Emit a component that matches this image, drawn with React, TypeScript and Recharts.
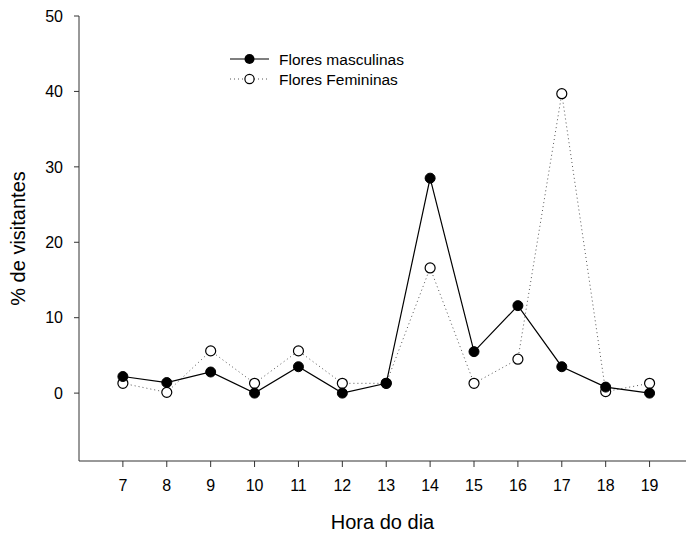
import { LineChart, Line, XAxis, YAxis } from "recharts";

const horas = [7, 8, 9, 10, 11, 12, 13, 14, 15, 16, 17, 18, 19];
const masculinas = [2.2, 1.4, 2.8, 0, 3.5, 0, 1.3, 28.5, 5.5, 11.6, 3.5, 0.8, 0];
const femininas = [1.3, 0.1, 5.6, 1.3, 5.6, 1.3, 1.3, 16.6, 1.3, 4.5, 39.7, 0.2, 1.3];
const yTicks = [0, 10, 20, 30, 40, 50];

const data = horas.map((h, i) => ({
  hora: h,
  masc: masculinas[i],
  fem: femininas[i],
}));

const font = "'Liberation Sans', Arial, sans-serif";

// legenda desenhada por cima do gráfico
function LegendBox() {
  return (
    <svg
      width={240}
      height={40}
      style={{ position: "absolute", left: 230, top: 49, overflow: "visible" }}
    >
      <line x1={0} y1={10} x2={39} y2={10} stroke="#000" strokeWidth={1.2} />
      <circle cx={19.5} cy={10} r={5} fill="#000" />
      <text x={49} y={15.5} fontSize={15.5} fontFamily={font} fill="#000">
        Flores masculinas
      </text>
      <line x1={0} y1={30} x2={39} y2={30} stroke="#555" strokeWidth={1} strokeDasharray="1 3" />
      <circle cx={19.5} cy={30} r={4.6} fill="#fff" stroke="#000" strokeWidth={1.2} />
      <text x={49} y={35.5} fontSize={15.5} fontFamily={font} fill="#000">
        Flores Femininas
      </text>
    </svg>
  );
}

function XTitle(props: any) {
  const vb = props.viewBox;
  return (
    <text
      x={vb.x + vb.width / 2}
      y={vb.y + vb.height - 5}
      textAnchor="middle"
      fontSize={20}
      fontFamily={font}
      fill="#000"
    >
      Hora do dia
    </text>
  );
}

export default function App() {
  return (
    <div
      style={{
        position: "fixed",
        left: 0,
        top: 0,
        width: 686,
        height: 534,
        fontFamily: font,
        background: "#fff",
      }}
    >
      <LineChart
        width={686}
        height={534}
        data={data}
        margin={{ top: 16, right: 0, left: 0, bottom: 0 }}
      >
        <XAxis
          dataKey="hora"
          type="number"
          domain={[6, 19.83]}
          ticks={horas}
          allowDataOverflow
          height={73}
          stroke="#333"
          tickSize={6}
          tickMargin={13}
          tick={{ fill: "#000", fontSize: 16, fontFamily: font }}
          label={<XTitle />}
        />
        <YAxis
          domain={[-9, 50]}
          ticks={yTicks}
          allowDataOverflow
          width={79}
          stroke="#333"
          tickSize={5}
          tickMargin={11}
          tick={{ fill: "#000", fontSize: 16, fontFamily: font }}
          label={{
            value: "% de visitantes",
            angle: -90,
            position: "insideLeft",
            offset: 18,
            fill: "#000",
            fontSize: 20,
            fontFamily: font,
            style: { textAnchor: "middle" },
          }}
        />
        <Line
          dataKey="fem"
          stroke="#555"
          strokeWidth={1}
          strokeDasharray="1 3"
          dot={{ r: 5, fill: "#fff", stroke: "#000", strokeWidth: 1.2, strokeDasharray: "" }}
          isAnimationActive={false}
        />
        <Line
          dataKey="masc"
          stroke="#000"
          strokeWidth={1.2}
          dot={{ r: 5, fill: "#000", stroke: "#000", strokeWidth: 1 }}
          isAnimationActive={false}
        />
      </LineChart>
      <LegendBox />
    </div>
  );
}
